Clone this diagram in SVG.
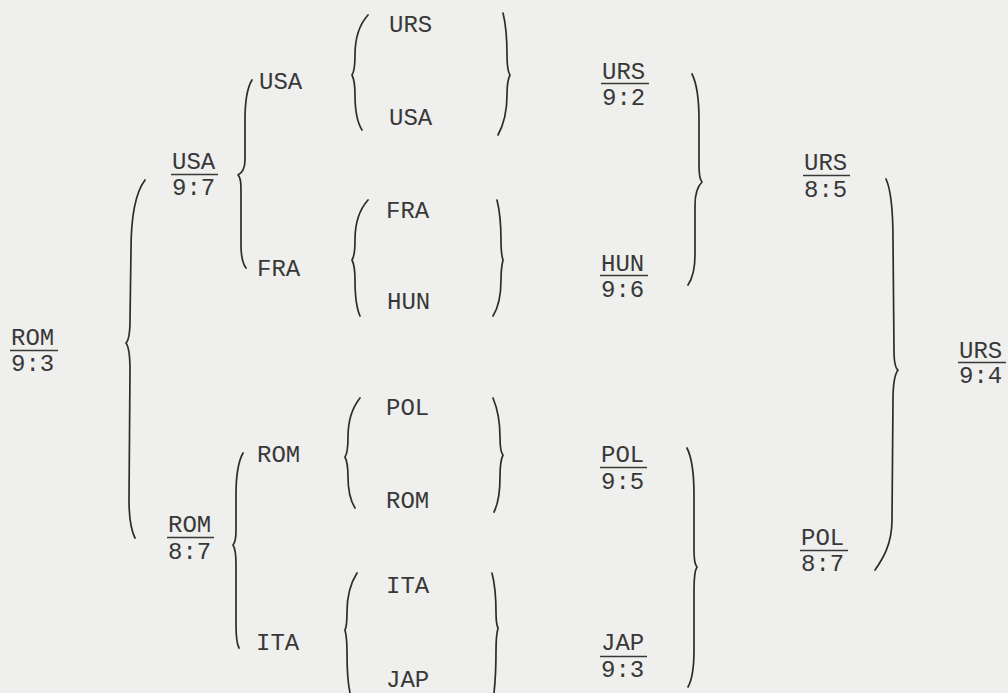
<svg xmlns="http://www.w3.org/2000/svg" width="1008" height="693" viewBox="0 0 1008 693">
<style>
text{font-family:"Liberation Mono","Courier New",monospace;font-size:24px;fill:#383838}
.u{stroke:#383838;stroke-width:1.6}
.br{fill:none;stroke:#2c2c2c;stroke-width:1.7;stroke-linecap:round;stroke-linejoin:round}
</style>
<rect width="1008" height="693" fill="#efefed"/>
<g id="connectors">
<path class="br" d="M145,180 C136,192 131,215 131,250 L130,320 C130,334 129,340 126,343 C129,347 130,354 130,370 L129,500 C129,520 131,530 135,538"/>
<path class="br" d="M252,80 C247,88 245,100 245,120 L245,160 C245,168 242,173 238,175 C241,178 241,184 241,195 L241,245 C241,258 243,264 246,268"/>
<path class="br" d="M243,453 C238,462 236,475 236,495 L236,530 C236,539 235,543 233,545 C235,548 236,553 236,565 L236,625 C236,638 237,644 239,648"/>
<path class="br" d="M368,15 C359,25 355,40 355,55 C355,66 354,72 352,75 C354,79 355,85 355,95 C355,110 357,122 362,130"/>
<path class="br" d="M503,13 C506,25 507,40 507,55 C507,66 508,72 510,75 C508,79 507,86 507,95 C507,112 504,124 498,135"/>
<path class="br" d="M368,200 C359,210 355,225 355,240 C355,251 354,257 352,260 C354,264 355,270 355,280 C355,295 356,307 360,316"/>
<path class="br" d="M497,200 C500,212 501,225 501,240 C501,251 502,257 503,260 C502,264 501,270 501,280 C501,296 498,308 493,316"/>
<path class="br" d="M360,398 C352,408 348,422 348,437 C348,449 347,454 345,457 C347,461 348,467 348,477 C348,490 350,500 355,508"/>
<path class="br" d="M493,398 C498,410 500,424 500,437 C500,448 501,453 503,455 C501,459 500,466 500,477 C500,493 498,504 494,512"/>
<path class="br" d="M357,573 C350,584 347,598 347,612 C347,624 346,628 345,630 C346,634 347,640 347,652 C347,672 348,684 350,693"/>
<path class="br" d="M492,573 C495,585 496,598 496,612 C496,622 497,626 498,628 C497,632 496,638 496,650 C496,670 495,684 494,693"/>
<path class="br" d="M692,74 C697,84 699,100 699,120 L699,165 C699,175 700,180 702,182 C699,185 695,192 695,205 L695,255 C695,270 692,279 688,285"/>
<path class="br" d="M687,448 C692,458 694,475 694,495 L694,550 C694,560 695,565 697,567 C695,570 694,578 694,590 L694,650 C694,668 692,680 688,687"/>
<path class="br" d="M886,179 C891,190 893,210 893,240 L894,350 C894,362 895,368 898,370 C895,374 893,384 893,400 L892,520 C892,545 882,560 875,570"/>
</g>
<g id="n-rom-93"><text x="11" y="345">ROM</text><line class="u" x1="10" y1="350.5" x2="58" y2="350.5"/><text x="11" y="371">9:3</text></g>
<g id="n-usa-97"><text x="172" y="169">USA</text><line class="u" x1="171" y1="174.5" x2="218" y2="174.5"/><text x="172" y="195">9:7</text></g>
<g id="n-rom-87"><text x="168" y="532">ROM</text><line class="u" x1="167" y1="537.5" x2="214" y2="537.5"/><text x="168" y="559">8:7</text></g>
<g id="n-usa-c2"><text x="259" y="89">USA</text></g>
<g id="n-fra-c2"><text x="257" y="276">FRA</text></g>
<g id="n-rom-c2"><text x="257" y="462">ROM</text></g>
<g id="n-ita-c2"><text x="256" y="650">ITA</text></g>
<g id="n-urs"><text x="389" y="32">URS</text></g>
<g id="n-usa"><text x="389" y="125">USA</text></g>
<g id="n-fra"><text x="386" y="218">FRA</text></g>
<g id="n-hun"><text x="387" y="309">HUN</text></g>
<g id="n-pol"><text x="386" y="415">POL</text></g>
<g id="n-rom"><text x="386" y="508">ROM</text></g>
<g id="n-ita"><text x="386" y="593">ITA</text></g>
<g id="n-jap"><text x="386" y="687">JAP</text></g>
<g id="n-urs-92"><text x="602" y="79">URS</text><line class="u" x1="601" y1="83.5" x2="649" y2="83.5"/><text x="602" y="105">9:2</text></g>
<g id="n-hun-96"><text x="601" y="271">HUN</text><line class="u" x1="600" y1="275.5" x2="648" y2="275.5"/><text x="601" y="297">9:6</text></g>
<g id="n-pol-95"><text x="601" y="462">POL</text><line class="u" x1="600" y1="467.5" x2="647" y2="467.5"/><text x="601" y="489">9:5</text></g>
<g id="n-jap-93"><text x="601" y="650">JAP</text><line class="u" x1="600" y1="656.5" x2="647" y2="656.5"/><text x="601" y="677">9:3</text></g>
<g id="n-urs-85"><text x="804" y="170">URS</text><line class="u" x1="803" y1="175.5" x2="850" y2="175.5"/><text x="804" y="197">8:5</text></g>
<g id="n-pol-87"><text x="801" y="545">POL</text><line class="u" x1="800" y1="550.5" x2="848" y2="550.5"/><text x="801" y="571">8:7</text></g>
<g id="n-urs-94"><text x="959" y="358">URS</text><line class="u" x1="958" y1="362.5" x2="1006" y2="362.5"/><text x="959" y="383">9:4</text></g>
</svg>
